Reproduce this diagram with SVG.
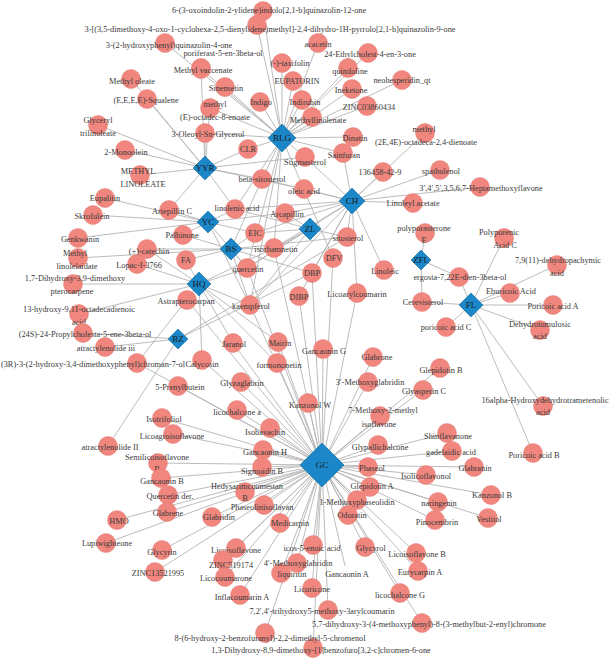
<svg xmlns="http://www.w3.org/2000/svg" width="610" height="659" viewBox="0 0 610 659">
<style>
.e{fill:none;stroke:#b4b4b4;stroke-width:0.9}
circle{fill:#f0867e;stroke:#e27a72;stroke-width:0.5}
.h{fill:#1b87c9;stroke:#16709f;stroke-width:0.6}
text{font-family:"Liberation Serif",serif;font-size:8.3px;fill:#3a3a3a;text-anchor:middle}
.ht{font-size:9px;fill:#1a1a1a}
</style>
<rect width="610" height="659" fill="#ffffff"/>
<g id="connectors" class="e">
<path d="M282 138L263 11M282 138L257 25M282 138L165 43M282 138L201 69M282 138L225 87M282 138L210 108M282 138L205 133M282 138L318 43M282 138L282 63M282 138L293 81M282 138L260 102M282 138L302 100M282 138L312 117M282 138L368 53M282 138L348 68M282 138L402 80M282 138L352 89M282 138L367 106M282 138L353 137M282 138L248 149M282 138L305 157M282 138L343 153M282 138L262 179M282 138L235 209M282 138L274 248M282 138L247 268M282 138L250 305M282 138L333 258"/>
<path d="M205 168L131 79M205 168L147 99M205 168L98 125M205 168L125 150M205 168L140 175M205 168L205 133M205 168L210 108M205 168L201 69M205 168L248 149M205 168L305 157M205 168L262 179M205 168L304 189M205 168L235 209M205 168L169 210"/>
<path d="M208 222L105 198M208 222L93 215M208 222L169 210M208 222L78 238M208 222L183 235M208 222L235 209M208 222L285 213M208 222L255 233M208 222L247 268M208 222L250 305"/>
<path d="M231 249L78 258M231 249L147 249M231 249L183 235M231 249L186 260M231 249L255 233M231 249L274 248M231 249L247 268M231 249L250 305M231 249L312 273M231 249L347 237M231 249L262 179"/>
<path d="M199 284L137 264M199 284L73 284M199 284L79 314M199 284L187 300M199 284L186 260M199 284L147 249M199 284L137 363M199 284L202 360M199 284L233 343M199 284L278 342M199 284L277 363M199 284L250 305M199 284L247 268M199 284L274 248"/>
<path d="M310 229L285 213M310 229L255 233M310 229L274 248M310 229L247 268M310 229L250 305M310 229L347 237M310 229L235 209"/>
<path d="M352 201L343 153M352 201L383 172M352 201L425 133M352 201L440 170M352 201L480 187M352 201L413 203M352 201L384 270M352 201L357 293M352 201L304 189M352 201L262 179M352 201L305 157M352 201L235 209M352 201L285 213M352 201L255 233M352 201L274 248M352 201L347 237M352 201L312 273M352 201L299 296M352 201L250 305M352 201L247 268"/>
<path d="M421 260L425 233M421 260L422 302M421 260L459 277"/>
<path d="M471 305L504 238M471 305L557 265M471 305L459 277M471 305L510 293M471 305L422 302M471 305L553 305M471 305L540 330M471 305L446 327M471 305L543 406M471 305L533 453"/>
<path d="M178 339L83 333M178 339L105 347M178 339L108 446M178 339L347 237M178 339L312 273"/>
<path d="M322 465L233 343M322 465L278 342M322 465L277 363M322 465L323 349M322 465L373 357M322 465L368 382M322 465L241 382M322 465L308 403M322 465L380 416M322 465L237 410M322 465L270 428M322 465L378 445M322 465L263 450M322 465L368 467M322 465L262 467M322 465L440 368M322 465L423 390M322 465L447 433M322 465L452 451M322 465L474 467M322 465L426 475M322 465L491 495M322 465L438 502M322 465L488 518M322 465L435 520M322 465L370 487M322 465L357 500M322 465L348 515M322 465L365 547M322 465L416 553M322 465L418 571M322 465L400 593M322 465L422 623M322 465L313 648M322 465L265 633M322 465L328 610M322 465L312 588M322 465L345 566M322 465L281 573M322 465L297 563M322 465L313 545M322 465L280 523M322 465L264 505M322 465L245 492M322 465L212 517M322 465L236 548M322 465L223 560M322 465L225 577M322 465L240 595M322 465L162 418M322 465L173 434M322 465L158 463M322 465L161 478M322 465L168 495M322 465L167 512M322 465L117 520M322 465L106 543M322 465L162 550M322 465L155 572M322 465L178 386M322 465L202 360M322 465L137 363M322 465L187 300M322 465L250 305M322 465L247 268M322 465L274 248M322 465L312 273M322 465L299 296M322 465L333 258M322 465L357 293"/>
</g>
<g id="compounds">
<g id="n_oxoindolin"><circle cx="263" cy="11" r="9.5"/><text x="269" y="13">6-(3-oxoindolin-2-ylidene)indolo[2,1-b]quinazolin-12-one</text></g>
<g id="n_dimethoxy"><circle cx="257" cy="25" r="9.5"/><text x="270" y="32">3-[(3,5-dimethoxy-4-oxo-1-cyclohexa-2,5-dienylidene)methyl]-2,4-dihydro-1H-pyrrolo[2,1-b]quinazolin-9-one</text></g>
<g id="n_hydroxyphenyl"><circle cx="165" cy="43" r="9.5"/><text x="169" y="48">3-(2-hydroxyphenyl)quinazolin-4-one</text></g>
<g id="n_poriferast"><circle cx="201" cy="68" r="9.5"/><text x="223" y="56">poriferast-5-en-3beta-ol</text></g>
<g id="n_vaccenate"><circle cx="201" cy="69" r="9.5"/><text x="203" y="73">Methyl vaccenate</text></g>
<g id="n_sinensetin"><circle cx="225" cy="87" r="9.5"/><text x="226" y="91">Sinensetin</text></g>
<g id="n_octadec"><circle cx="210" cy="108" r="9.5"/><text x="215" y="107">methyl</text><text x="215" y="120">(E)-octadec-8-enoate</text></g>
<g id="n_oleoyl"><circle cx="205" cy="133" r="9.5"/><text x="208" y="137">3-Oleoyl-Sn-Glycerol</text></g>
<g id="n_methyloleate"><circle cx="131" cy="79" r="9.5"/><text x="132" y="84">Methyl oleate</text></g>
<g id="n_squalene"><circle cx="147" cy="99" r="9.5"/><text x="146" y="103">(E,E,E,E)-Squalene</text></g>
<g id="n_glyceryl"><circle cx="98" cy="125" r="9.5"/><text x="98" y="123">Glyceryl</text><text x="98" y="136">trilinoleate</text></g>
<g id="n_monoolein"><circle cx="125" cy="150" r="9.5"/><text x="126" y="155">2-Monoolein</text></g>
<g id="n_methyllinoleate"><circle cx="140" cy="175" r="9.5"/><text x="138" y="174">METHYL</text><text x="143" y="187">LINOLEATE</text></g>
<g id="n_acacetin"><circle cx="318" cy="43" r="9.5"/><text x="318" y="47">acacetin</text></g>
<g id="n_taxifolin"><circle cx="282" cy="63" r="9.5"/><text x="290" y="66">(-)-taxifolin</text></g>
<g id="n_eupatorin"><circle cx="293" cy="81" r="9.5"/><text x="297" y="84">EUPATORIN</text></g>
<g id="n_indigo"><circle cx="260" cy="102" r="9.5"/><text x="261" y="105">Indigo</text></g>
<g id="n_indirubin"><circle cx="302" cy="100" r="9.5"/><text x="305" y="105">Indirubin</text></g>
<g id="n_methyllinolenate"><circle cx="312" cy="117" r="9.5"/><text x="318" y="123">Methyllinolenate</text></g>
<g id="n_ethylcholest"><circle cx="368" cy="53" r="9.5"/><text x="370" y="57">24-Ethylcholest-4-en-3-one</text></g>
<g id="n_quindoline"><circle cx="348" cy="68" r="9.5"/><text x="350" y="74">quindoline</text></g>
<g id="n_neohesperidin"><circle cx="402" cy="80" r="9.5"/><text x="402" y="83">neohesperidin_qt</text></g>
<g id="n_ineketone"><circle cx="352" cy="89" r="9.5"/><text x="351" y="93">Ineketone</text></g>
<g id="n_zinc03860434"><circle cx="367" cy="106" r="9.5"/><text x="369" y="110">ZINC03860434</text></g>
<g id="n_dinatin"><circle cx="353" cy="137" r="9.5"/><text x="355" y="141">Dinatin</text></g>
<g id="n_clr"><circle cx="248" cy="149" r="9.5"/><text x="248" y="152">CLR</text></g>
<g id="n_stigmasterol"><circle cx="305" cy="157" r="9.5"/><text x="305" y="165">Stigmasterol</text></g>
<g id="n_sainfuran"><circle cx="343" cy="153" r="9.5"/><text x="344" y="158">Sainfuran</text></g>
<g id="n_dienoate"><circle cx="425" cy="133" r="9.5"/><text x="424" y="132">methyl</text><text x="426" y="145">(2E,4E)-octadeca-2,4-dienoate</text></g>
<g id="n_136458"><circle cx="383" cy="172" r="9.5"/><text x="380" y="175">136458-42-9</text></g>
<g id="n_spathulenol"><circle cx="440" cy="170" r="9.5"/><text x="441" y="174">spathulenol</text></g>
<g id="n_heptamethoxy"><circle cx="480" cy="187" r="9.5"/><text x="481" y="191">3&#8242;,4&#8242;,5&#8242;,3,5,6,7-Heptamethoxyflavone</text></g>
<g id="n_linoleylacetate"><circle cx="413" cy="203" r="9.5"/><text x="413" y="206">Linoleyl acetate</text></g>
<g id="n_polyporasterone"><circle cx="425" cy="233" r="9.5"/><text x="424" y="231">polyporasterone</text><text x="424" y="243">E</text></g>
<g id="n_polyporenic"><circle cx="504" cy="238" r="9.5"/><text x="499" y="235">Polyporenic</text><text x="505" y="248">Acid C</text></g>
<g id="n_dehydropachymic"><circle cx="557" cy="265" r="9.5"/><text x="558" y="263">7,9(11)-dehydropachymic</text><text x="557" y="276">acid</text></g>
<g id="n_ergosta"><circle cx="459" cy="277" r="9.5"/><text x="460" y="280">ergosta-7,22E-dien-3beta-ol</text></g>
<g id="n_eburicoic"><circle cx="510" cy="293" r="9.5"/><text x="511" y="294">Eburicoic Acid</text></g>
<g id="n_cerevisterol"><circle cx="422" cy="302" r="9.5"/><text x="423" y="305">Cerevisterol</text></g>
<g id="n_poricoicA"><circle cx="553" cy="305" r="9.5"/><text x="553" y="309">Poricoic acid A</text></g>
<g id="n_dehydrotumulosic"><circle cx="540" cy="330" r="9.5"/><text x="540" y="327">Dehydrotumulosic</text><text x="540" y="339">acid</text></g>
<g id="n_poricoicC"><circle cx="446" cy="327" r="9.5"/><text x="446" y="330">poricoic acid C</text></g>
<g id="n_hydroxydehydro"><circle cx="543" cy="406" r="9.5"/><text x="545" y="403">16alpha-Hydroxydehydrotrametenolic</text><text x="543" y="415">acid</text></g>
<g id="n_poricoicB"><circle cx="533" cy="453" r="9.5"/><text x="534" y="458">Poricoic acid B</text></g>
<g id="n_eupalitin"><circle cx="105" cy="198" r="9.5"/><text x="105" y="201">Eupalitin</text></g>
<g id="n_artepillin"><circle cx="169" cy="210" r="9.5"/><text x="172" y="214">Artepillin C</text></g>
<g id="n_skrofulein"><circle cx="93" cy="215" r="9.5"/><text x="92" y="219">Skrofulein</text></g>
<g id="n_genkwanin"><circle cx="78" cy="238" r="9.5"/><text x="80" y="242">Genkwanin</text></g>
<g id="n_palbinone"><circle cx="183" cy="235" r="9.5"/><text x="182" y="238">Palbinone</text></g>
<g id="n_catechin"><circle cx="147" cy="249" r="9.5"/><text x="149" y="254">(+)-catechin</text></g>
<g id="n_linolelaidate"><circle cx="78" cy="258" r="9.5"/><text x="75" y="256">Methyl</text><text x="77" y="269">linolelaidate</text></g>
<g id="n_fa"><circle cx="186" cy="260" r="9.5"/><text x="186" y="263">FA</text></g>
<g id="n_lopac"><circle cx="137" cy="264" r="9.5"/><text x="139" y="268">Lopac-I-3766</text></g>
<g id="n_dihydroxydimethoxy"><circle cx="73" cy="284" r="9.5"/><text x="75" y="281">1,7-Dihydroxy-3,9-dimethoxy</text><text x="72" y="294">pterocarpene</text></g>
<g id="n_astrapterocarpan"><circle cx="187" cy="300" r="9.5"/><text x="186" y="304">Astrapterocarpan</text></g>
<g id="n_hydroxyoctadeca"><circle cx="79" cy="314" r="9.5"/><text x="79" y="312">13-hydroxy-9,11-octadecadienoic</text><text x="79" y="325">acid</text></g>
<g id="n_propylcholesta"><circle cx="83" cy="333" r="9.5"/><text x="85" y="337">(24S)-24-Propylcholesta-5-ene-3beta-ol</text></g>
<g id="n_atracIII"><circle cx="105" cy="347" r="9.5"/><text x="106" y="351">atractylenolide iii</text></g>
<g id="n_chromanol"><circle cx="137" cy="363" r="9.5"/><text x="93" y="367">(3R)-3-(2-hydroxy-3,4-dimethoxyphenyl)chroman-7-ol</text></g>
<g id="n_calycosin"><circle cx="202" cy="360" r="9.5"/><text x="202" y="367">Calycosin</text></g>
<g id="n_prenylbutein"><circle cx="178" cy="386" r="9.5"/><text x="180" y="390">5-Prenylbutein</text></g>
<g id="n_betasitosterol"><circle cx="262" cy="179" r="9.5"/><text x="262" y="182">beta-sitosterol</text></g>
<g id="n_oleic"><circle cx="304" cy="189" r="9.5"/><text x="304" y="194">oleic acid</text></g>
<g id="n_linolenic"><circle cx="235" cy="209" r="9.5"/><text x="237" y="211">linolenic acid</text></g>
<g id="n_arcapillin"><circle cx="285" cy="213" r="9.5"/><text x="287" y="217">Arcapillin</text></g>
<g id="n_eic"><circle cx="255" cy="233" r="9.5"/><text x="255" y="236">EIC</text></g>
<g id="n_sitosterol"><circle cx="347" cy="237" r="9.5"/><text x="348" y="241">sitosterol</text></g>
<g id="n_isorhamnetin"><circle cx="274" cy="248" r="9.5"/><text x="276" y="252">isorhamnetin</text></g>
<g id="n_dfv"><circle cx="333" cy="258" r="9.5"/><text x="334" y="261">DFV</text></g>
<g id="n_quercetin"><circle cx="247" cy="268" r="9.5"/><text x="248" y="272">quercetin</text></g>
<g id="n_dbp"><circle cx="312" cy="273" r="9.5"/><text x="312" y="276">DBP</text></g>
<g id="n_linoleic"><circle cx="384" cy="270" r="9.5"/><text x="385" y="274">Linoleic</text></g>
<g id="n_dibp"><circle cx="299" cy="296" r="9.5"/><text x="299" y="300">DIBP</text></g>
<g id="n_licoarylcoumarin"><circle cx="357" cy="293" r="9.5"/><text x="357" y="297">Licoarylcoumarin</text></g>
<g id="n_kaempferol"><circle cx="250" cy="305" r="9.5"/><text x="251" y="309">kaempferol</text></g>
<g id="n_jaranol"><circle cx="233" cy="343" r="9.5"/><text x="234" y="347">Jaranol</text></g>
<g id="n_mairin"><circle cx="278" cy="342" r="9.5"/><text x="280" y="346">Mairin</text></g>
<g id="n_formononetin"><circle cx="277" cy="363" r="9.5"/><text x="279" y="368">formononetin</text></g>
<g id="n_gancaoninG"><circle cx="323" cy="349" r="9.5"/><text x="324" y="354">Gancaonin G</text></g>
<g id="n_glabrone"><circle cx="373" cy="357" r="9.5"/><text x="377" y="360">Glabrone</text></g>
<g id="n_methoxyglabridin3"><circle cx="368" cy="382" r="9.5"/><text x="370" y="385">3&#8242;-Methoxyglabridin</text></g>
<g id="n_glyzaglabrin"><circle cx="241" cy="382" r="9.5"/><text x="242" y="386">Glyzaglabrin</text></g>
<g id="n_kanzonolW"><circle cx="308" cy="403" r="9.5"/><text x="310" y="408">Kanzonol W</text></g>
<g id="n_methoxymethyl"><circle cx="380" cy="416" r="9.5"/><text x="383" y="413">7-Methoxy-2-methyl</text><text x="379" y="427">isoflavone</text></g>
<g id="n_licochalconeA"><circle cx="237" cy="410" r="9.5"/><text x="237" y="415">licochalcone a</text></g>
<g id="n_isobavachin"><circle cx="270" cy="428" r="9.5"/><text x="265" y="435">Isobavachin</text></g>
<g id="n_glypallichalcone"><circle cx="378" cy="445" r="9.5"/><text x="380" y="450">Glypallichalcone</text></g>
<g id="n_gancaoninH"><circle cx="263" cy="450" r="9.5"/><text x="265" y="455">Gancaonin H</text></g>
<g id="n_phaseol"><circle cx="368" cy="467" r="9.5"/><text x="372" y="471">Phaseol</text></g>
<g id="n_sigmoidin"><circle cx="262" cy="467" r="9.5"/><text x="262" y="474">Sigmoidin B</text></g>
<g id="n_glepidotinB"><circle cx="440" cy="368" r="9.5"/><text x="441" y="373">Glepidotin B</text></g>
<g id="n_glyasperin"><circle cx="423" cy="390" r="9.5"/><text x="424" y="394">Glyasperin C</text></g>
<g id="n_shinflavanone"><circle cx="447" cy="433" r="9.5"/><text x="448" y="439">Shinflavanone</text></g>
<g id="n_gadelaidic"><circle cx="452" cy="451" r="9.5"/><text x="451" y="455">gadelaidic acid</text></g>
<g id="n_glabranin"><circle cx="474" cy="467" r="9.5"/><text x="475" y="471">Glabranin</text></g>
<g id="n_isolicoflavonol"><circle cx="426" cy="475" r="9.5"/><text x="426" y="479">Isolicoflavonol</text></g>
<g id="n_kanzonolB"><circle cx="491" cy="495" r="9.5"/><text x="492" y="498">Kanzonol B</text></g>
<g id="n_naringenin"><circle cx="438" cy="502" r="9.5"/><text x="439" y="506">naringenin</text></g>
<g id="n_vestitol"><circle cx="488" cy="518" r="9.5"/><text x="489" y="522">Vestitol</text></g>
<g id="n_pinocembrin"><circle cx="435" cy="520" r="9.5"/><text x="437" y="525">Pinocembrin</text></g>
<g id="n_glepidotinA"><circle cx="370" cy="487" r="9.5"/><text x="372" y="489">Glepidotin A</text></g>
<g id="n_methoxyphaseolidin"><circle cx="357" cy="500" r="9.5"/><text x="357" y="505">1-Methoxyphaseolidin</text></g>
<g id="n_odoratin"><circle cx="348" cy="515" r="9.5"/><text x="352" y="518">Odoratin</text></g>
<g id="n_glycyrol"><circle cx="365" cy="547" r="9.5"/><text x="371" y="551">Glycyrol</text></g>
<g id="n_licoisoflavoneB"><circle cx="416" cy="553" r="9.5"/><text x="417" y="557">Licoisoflavone B</text></g>
<g id="n_eurycarpin"><circle cx="418" cy="571" r="9.5"/><text x="420" y="575">Eurycarpin A</text></g>
<g id="n_licochalconeG"><circle cx="400" cy="593" r="9.5"/><text x="400" y="598">licochalcone G</text></g>
<g id="n_chromone"><circle cx="422" cy="623" r="9.5"/><text x="429" y="627">5,7-dihydroxy-3-(4-methoxyphenyl)-8-(3-methylbut-2-enyl)chromone</text></g>
<g id="n_benzofurochromen"><circle cx="313" cy="648" r="9.5"/><text x="321" y="653">1,3-Dihydroxy-8,9-dimethoxy-[1]benzofuro[3,2-c]chromen-6-one</text></g>
<g id="n_chromenol"><circle cx="265" cy="633" r="9.5"/><text x="270" y="641">8-(6-hydroxy-2-benzofuranyl)-2,2-dimethyl-5-chromenol</text></g>
<g id="n_arylcoumarin"><circle cx="328" cy="610" r="9.5"/><text x="322" y="614">7,2&#8242;,4&#8242;-trihydroxy5-methoxy-3arylcoumarin</text></g>
<g id="n_licoricone"><circle cx="312" cy="588" r="9.5"/><text x="312" y="592">Licoricone</text></g>
<g id="n_gancaoninA"><text x="347" y="577">Gancaonin A</text></g>
<g id="n_liquiritin"><circle cx="281" cy="573" r="9.5"/><text x="292" y="577">liquiritin</text></g>
<g id="n_methoxyglabridin4"><circle cx="297" cy="563" r="9.5"/><text x="298" y="566">4&#8242;-Methoxyglabridin</text></g>
<g id="n_icosenoic"><circle cx="313" cy="545" r="9.5"/><text x="312" y="551">icos-5-enoic acid</text></g>
<g id="n_medicarpin"><circle cx="280" cy="523" r="9.5"/><text x="290" y="526">Medicarpin</text></g>
<g id="n_phaseolinisoflavan"><circle cx="264" cy="505" r="9.5"/><text x="262" y="510">Phaseolinisoflavan</text></g>
<g id="n_hedysarimcoumestan"><circle cx="245" cy="492" r="9.5"/><text x="247" y="489">Hedysarimcoumestan</text><text x="245" y="501">B</text></g>
<g id="n_glabridin"><circle cx="212" cy="517" r="9.5"/><text x="219" y="520">Glabridin</text></g>
<g id="n_licoisoflavone"><circle cx="236" cy="548" r="9.5"/><text x="236" y="553">Licoisoflavone</text></g>
<g id="n_zinc519174"><circle cx="223" cy="560" r="9.5"/><text x="231" y="568">ZINC519174</text></g>
<g id="n_licocoumarone"><circle cx="225" cy="577" r="9.5"/><text x="226" y="581">Licocoumarone</text></g>
<g id="n_inflacoumarin"><circle cx="240" cy="595" r="9.5"/><text x="242" y="600">Inflacoumarin A</text></g>
<g id="n_isotrifoliol"><circle cx="162" cy="418" r="9.5"/><text x="164" y="422">Isotrifoliol</text></g>
<g id="n_licoagroisoflavone"><circle cx="173" cy="434" r="9.5"/><text x="172" y="439">Licoagroisoflavone</text></g>
<g id="n_atracII"><circle cx="108" cy="446" r="9.5"/><text x="110" y="450">atractylenolide II</text></g>
<g id="n_semilicoisoflavone"><circle cx="158" cy="463" r="9.5"/><text x="157" y="460">Semilicoisoflavone</text><text x="157" y="472">B</text></g>
<g id="n_gancaoninB"><circle cx="161" cy="478" r="9.5"/><text x="162" y="484">Gancaonin B</text></g>
<g id="n_quercetinder"><circle cx="168" cy="495" r="9.5"/><text x="170" y="499">Quercetin der.</text></g>
<g id="n_glabrene"><circle cx="167" cy="512" r="9.5"/><text x="168" y="516">Glabrene</text></g>
<g id="n_hmo"><circle cx="117" cy="520" r="9.5"/><text x="119" y="524">HMO</text></g>
<g id="n_lupiwighteone"><circle cx="106" cy="543" r="9.5"/><text x="107" y="546">Lupiwighteone</text></g>
<g id="n_glycyrin"><circle cx="162" cy="550" r="9.5"/><text x="162" y="555">Glycyrin</text></g>
<g id="n_zinc13521995"><circle cx="155" cy="572" r="9.5"/><text x="158" y="576">ZINC13521995</text></g>
</g>
<g id="hubs">
<g id="h_BLG"><path class="h" d="M282 124L296 138L282 152L268 138Z"/><text class="ht" x="282" y="141">BLG</text></g>
<g id="h_YYR"><path class="h" d="M205 156L217 168L205 180L193 168Z"/><text class="ht" x="205" y="171">YYR</text></g>
<g id="h_YC"><path class="h" d="M208 211L219 222L208 233L197 222Z"/><text class="ht" x="208" y="225">YC</text></g>
<g id="h_BS"><path class="h" d="M231 238L242 249L231 260L220 249Z"/><text class="ht" x="231" y="252">BS</text></g>
<g id="h_HQ"><path class="h" d="M199 272L211 284L199 296L187 284Z"/><text class="ht" x="199" y="287">HQ</text></g>
<g id="h_ZL"><path class="h" d="M310 218L321 229L310 240L299 229Z"/><text class="ht" x="310" y="232">ZL</text></g>
<g id="h_CH"><path class="h" d="M352 188L365 201L352 214L339 201Z"/><text class="ht" x="352" y="204">CH</text></g>
<g id="h_ZFL"><path class="h" d="M421 250L431 260L421 270L411 260Z"/><text class="ht" x="421" y="263">ZFL</text></g>
<g id="h_FL"><path class="h" d="M471 293L483 305L471 317L459 305Z"/><text class="ht" x="471" y="308">FL</text></g>
<g id="h_BZ"><path class="h" d="M178 329L188 339L178 349L168 339Z"/><text class="ht" x="178" y="342">BZ</text></g>
<g id="h_GC"><path class="h" d="M322 443L344 465L322 487L300 465Z"/><text class="ht" x="322" y="468">GC</text></g>
</g>
</svg>
